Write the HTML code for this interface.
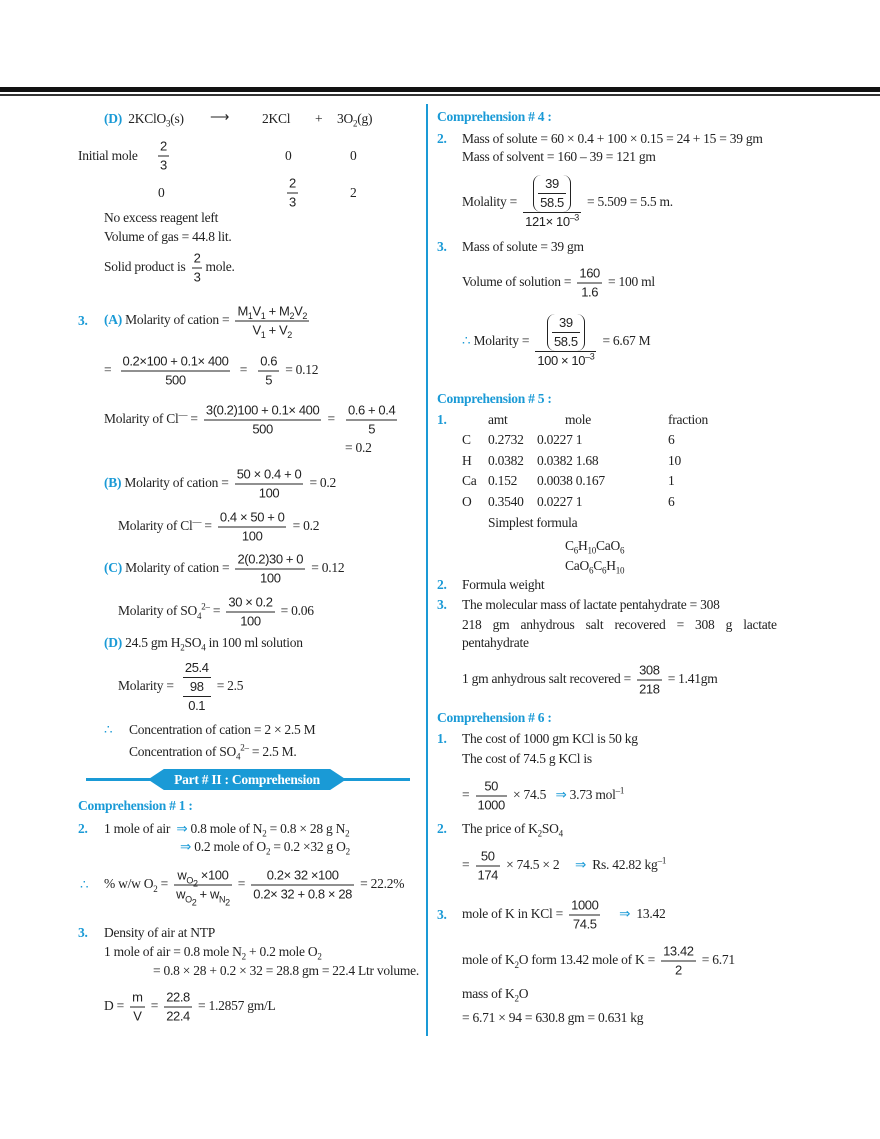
<!DOCTYPE html>
<html><head><meta charset="utf-8">
<style>
body{margin:0;background:#fff;}
#p{position:relative;width:880px;height:1139px;overflow:hidden;font-family:"Liberation Serif",serif;font-size:13.5px;letter-spacing:-0.25px;color:#222;}
.l{position:absolute;white-space:nowrap;transform:translateY(-50%);line-height:18px;}
.b{color:#1a9ad6;font-weight:bold;}
.fr{display:inline-block;vertical-align:middle;text-align:center;font-family:"Liberation Sans",sans-serif;font-size:13px;letter-spacing:-0.4px;margin:0 3px;}
.fr>span{display:block;line-height:18px;padding:0 2px;}
.fr>span:first-child{border-bottom:1px solid #222;}
.par{display:inline-block;border-left:1.5px solid #222;border-right:1.5px solid #222;border-radius:8px;padding:0 4px;}
sub,sup{font-size:9px;line-height:0;}
</style></head><body><div id="p">
<div style="position:absolute;left:0;top:87px;width:880px;height:5px;background:#111"></div>
<div style="position:absolute;left:0;top:94px;width:880px;height:2px;background:#333"></div>
<div style="position:absolute;left:426px;top:104px;width:2px;height:932px;background:#1a9ad6"></div>

<!-- Left column -->
<div class="l" style="left:104px;top:119px"><span class="b">(D)</span>&nbsp; 2KClO<sub>3</sub>(s)</div>
<div class="l" style="left:210px;top:117px">⟶</div>
<div class="l" style="left:262px;top:119px">2KCl</div>
<div class="l" style="left:315px;top:119px">+</div>
<div class="l" style="left:337px;top:119px">3O<sub>2</sub>(g)</div>
<div class="l" style="left:78px;top:156px">Initial mole</div>
<div class="l" style="left:155px;top:156px"><span class="fr"><span>2</span><span>3</span></span></div>
<div class="l" style="left:285px;top:156px">0</div>
<div class="l" style="left:350px;top:156px">0</div>
<div class="l" style="left:158px;top:193px">0</div>
<div class="l" style="left:284px;top:193px"><span class="fr"><span>2</span><span>3</span></span></div>
<div class="l" style="left:350px;top:193px">2</div>
<div class="l" style="left:104px;top:218px">No excess reagent left</div>
<div class="l" style="left:104px;top:237px">Volume of gas = 44.8 lit.</div>
<div class="l" style="left:104px;top:268px">Solid product is <span class="fr"><span>2</span><span>3</span></span>mole.</div>

<div class="l" style="left:78px;top:321px"><span class="b">3.</span></div>
<div class="l" style="left:104px;top:321px"><span class="b">(A)</span> Molarity of cation = <span class="fr"><span>M<sub>1</sub>V<sub>1</sub> + M<sub>2</sub>V<sub>2</sub></span><span>V<sub>1</sub> + V<sub>2</sub></span></span></div>
<div class="l" style="left:104px;top:371px">= <span class="fr" style="margin-left:6px"><span>0.2×100 + 0.1× 400</span><span>500</span></span> &nbsp;= <span class="fr" style="margin-left:8px"><span>0.6</span><span>5</span></span> = 0.12</div>
<div class="l" style="left:104px;top:420px">Molarity of Cl<sup>—</sup> = <span class="fr"><span>3(0.2)100 + 0.1× 400</span><span>500</span></span> = <span class="fr" style="margin-left:8px"><span>0.6 + 0.4</span><span>5</span></span></div>
<div class="l" style="left:345px;top:448px">= 0.2</div>
<div class="l" style="left:104px;top:484px"><span class="b">(B)</span> Molarity of cation = <span class="fr"><span>50 × 0.4 + 0</span><span>100</span></span> = 0.2</div>
<div class="l" style="left:118px;top:527px">Molarity of Cl<sup>—</sup> = <span class="fr"><span>0.4 × 50 + 0</span><span>100</span></span> = 0.2</div>
<div class="l" style="left:104px;top:569px"><span class="b">(C)</span> Molarity of cation = <span class="fr"><span>2(0.2)30 + 0</span><span>100</span></span> = 0.12</div>
<div class="l" style="left:118px;top:612px">Molarity of SO<sub>4</sub><sup>2–</sup> = <span class="fr"><span>30 × 0.2</span><span>100</span></span> = 0.06</div>
<div class="l" style="left:104px;top:643px"><span class="b">(D)</span> 24.5 gm H<sub>2</sub>SO<sub>4</sub> in 100 ml solution</div>
<div class="l" style="left:118px;top:687px">Molarity = <span class="fr" style="margin-left:6px"><span>25.4</span><span style="border-bottom:1px solid #222">98</span><span>0.1</span></span> = 2.5</div>
<div class="l" style="left:104px;top:730px;color:#1a9ad6">∴</div>
<div class="l" style="left:129px;top:730px">Concentration of cation = 2 × 2.5 M</div>
<div class="l" style="left:129px;top:752px">Concentration of SO<sub>4</sub><sup>2–</sup> = 2.5 M.</div>

<div style="position:absolute;left:86px;top:778px;width:324px;height:3px;background:#1a9ad6"></div>
<div style="position:absolute;left:148px;top:769px;width:198px;height:21px;background:#1a9ad6;clip-path:polygon(8% 0,92% 0,100% 50%,92% 100%,8% 100%,0 50%);color:#fff;font-weight:bold;text-align:center;line-height:21px">Part # II : Comprehension</div>

<div class="l b" style="left:78px;top:806px">Comprehension # 1 :</div>
<div class="l b" style="left:78px;top:829px">2.</div>
<div class="l" style="left:104px;top:829px">1 mole of air &nbsp;<span style="color:#1a9ad6">⇒</span> 0.8 mole of N<sub>2</sub> = 0.8 × 28 g N<sub>2</sub></div>
<div class="l" style="left:180px;top:847px"><span style="color:#1a9ad6">⇒</span> 0.2 mole of O<sub>2</sub> = 0.2 ×32 g O<sub>2</sub></div>
<div class="l" style="left:80px;top:885px;color:#1a9ad6">∴</div>
<div class="l" style="left:104px;top:885px">% w/w O<sub>2</sub> = <span class="fr"><span>w<sub>O<sub>2</sub></sub> ×100</span><span>w<sub>O<sub>2</sub></sub> + w<sub>N<sub>2</sub></sub></span></span> = <span class="fr"><span>0.2× 32 ×100</span><span>0.2× 32 + 0.8 × 28</span></span> = 22.2%</div>
<div class="l b" style="left:78px;top:933px">3.</div>
<div class="l" style="left:104px;top:933px">Density of air at NTP</div>
<div class="l" style="left:104px;top:952px">1 mole of air = 0.8 mole N<sub>2</sub> + 0.2 mole O<sub>2</sub></div>
<div class="l" style="left:153px;top:971px">= 0.8 × 28 + 0.2 × 32 = 28.8 gm = 22.4 Ltr volume.</div>
<div class="l" style="left:104px;top:1007px">D = <span class="fr"><span>m</span><span>V</span></span> = <span class="fr"><span>22.8</span><span>22.4</span></span> = 1.2857 gm/L</div>

<!-- Right column -->
<div class="l b" style="left:437px;top:117px">Comprehension # 4 :</div>
<div class="l b" style="left:437px;top:139px">2.</div>
<div class="l" style="left:462px;top:139px">Mass of solute = 60 × 0.4 + 100 × 0.15 = 24 + 15 = 39 gm</div>
<div class="l" style="left:462px;top:157px">Mass of solvent = 160 – 39 = 121 gm</div>
<div class="l" style="left:462px;top:203px">Molality = <span class="fr"><span><span class="par"><span class="fr" style="margin:0"><span>39</span><span>58.5</span></span></span></span><span>121× 10<sup>–3</sup></span></span> = 5.509 = 5.5 m.</div>
<div class="l b" style="left:437px;top:247px">3.</div>
<div class="l" style="left:462px;top:247px">Mass of solute = 39 gm</div>
<div class="l" style="left:462px;top:283px">Volume of solution = <span class="fr"><span>160</span><span>1.6</span></span> = 100 ml</div>
<div class="l" style="left:462px;top:342px"><span style="color:#1a9ad6">∴</span> Molarity = <span class="fr"><span><span class="par"><span class="fr" style="margin:0"><span>39</span><span>58.5</span></span></span></span><span>100 × 10<sup>–3</sup></span></span> = 6.67 M</div>

<div class="l b" style="left:437px;top:399px">Comprehension # 5 :</div>
<div class="l b" style="left:437px;top:420px">1.</div>
<div class="l" style="left:488px;top:420px">amt</div><div class="l" style="left:565px;top:420px">mole</div><div class="l" style="left:668px;top:420px">fraction</div>
<div class="l" style="left:462px;top:440px">C</div><div class="l" style="left:488px;top:440px">0.2732</div><div class="l" style="left:537px;top:440px">0.0227 1</div><div class="l" style="left:668px;top:440px">6</div>
<div class="l" style="left:462px;top:461px">H</div><div class="l" style="left:488px;top:461px">0.0382</div><div class="l" style="left:537px;top:461px">0.0382 1.68</div><div class="l" style="left:668px;top:461px">10</div>
<div class="l" style="left:462px;top:481px">Ca</div><div class="l" style="left:488px;top:481px">0.152</div><div class="l" style="left:537px;top:481px">0.0038 0.167</div><div class="l" style="left:668px;top:481px">1</div>
<div class="l" style="left:462px;top:502px">O</div><div class="l" style="left:488px;top:502px">0.3540</div><div class="l" style="left:537px;top:502px">0.0227 1</div><div class="l" style="left:668px;top:502px">6</div>
<div class="l" style="left:488px;top:523px">Simplest formula</div>
<div class="l" style="left:565px;top:546px">C<sub>6</sub>H<sub>10</sub>CaO<sub>6</sub></div>
<div class="l" style="left:565px;top:566px">CaO<sub>6</sub>C<sub>6</sub>H<sub>10</sub></div>
<div class="l b" style="left:437px;top:585px">2.</div>
<div class="l" style="left:462px;top:585px">Formula weight</div>
<div class="l b" style="left:437px;top:605px">3.</div>
<div class="l" style="left:462px;top:605px">The molecular mass of lactate pentahydrate = 308</div>
<div class="l" style="left:462px;top:625px;word-spacing:8px">218 gm anhydrous salt recovered = 308 g lactate</div>
<div class="l" style="left:462px;top:643px">pentahydrate</div>
<div class="l" style="left:462px;top:680px">1 gm anhydrous salt recovered = <span class="fr"><span>308</span><span>218</span></span> = 1.41gm</div>

<div class="l b" style="left:437px;top:718px">Comprehension # 6 :</div>
<div class="l b" style="left:437px;top:739px">1.</div>
<div class="l" style="left:462px;top:739px">The cost of 1000 gm KCl is 50 kg</div>
<div class="l" style="left:462px;top:759px">The cost of 74.5 g KCl is</div>
<div class="l" style="left:462px;top:796px">= <span class="fr"><span>50</span><span>1000</span></span> × 74.5 &nbsp;&nbsp;<span style="color:#1a9ad6">⇒</span> 3.73 mol<sup>–1</sup></div>
<div class="l b" style="left:437px;top:829px">2.</div>
<div class="l" style="left:462px;top:829px">The price of K<sub>2</sub>SO<sub>4</sub></div>
<div class="l" style="left:462px;top:866px">= <span class="fr"><span>50</span><span>174</span></span> × 74.5 × 2 &nbsp;&nbsp;&nbsp;&nbsp;<span style="color:#1a9ad6">⇒</span> &nbsp;Rs. 42.82 kg<sup>–1</sup></div>
<div class="l b" style="left:437px;top:915px">3.</div>
<div class="l" style="left:462px;top:915px">mole of K in KCl = <span class="fr"><span>1000</span><span>74.5</span></span> &nbsp;&nbsp;&nbsp;&nbsp;<span style="color:#1a9ad6">⇒</span> &nbsp;13.42</div>
<div class="l" style="left:462px;top:961px">mole of K<sub>2</sub>O form 13.42 mole of K = <span class="fr"><span>13.42</span><span>2</span></span> = 6.71</div>
<div class="l" style="left:462px;top:994px">mass of K<sub>2</sub>O</div>
<div class="l" style="left:462px;top:1018px">= 6.71 × 94 = 630.8 gm = 0.631 kg</div>
</div></body></html>
